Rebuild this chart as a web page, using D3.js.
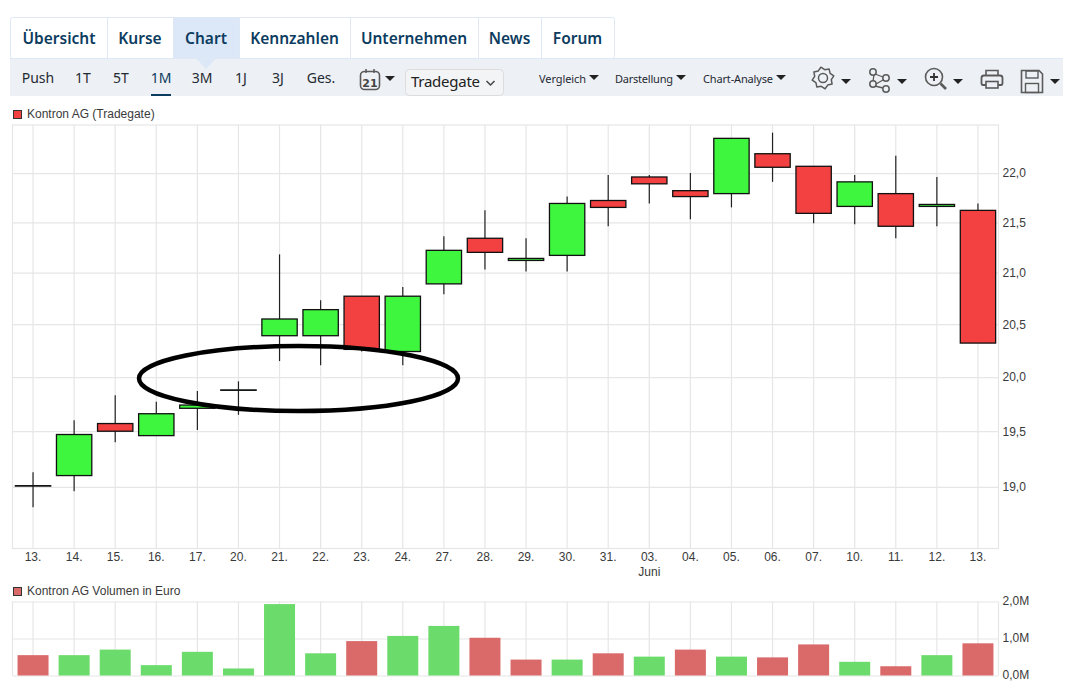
<!DOCTYPE html>
<html>
<head>
<meta charset="utf-8">
<title>Kontron AG Chart</title>
<script src="https://cdn.jsdelivr.net/npm/d3@7"></script>
<style>
html, body { margin: 0; padding: 0; background: #fff; }
svg { display: block; }
</style>
</head>
<body>
<div id="chart"></div>
<script>
// werte
var days = ["13.","14.","15.","16.","17.","20.","21.","22.","23.","24.","27.","28.","29.","30.","31.","03.","04.","05.","06.","07.","10.","11.","12.","13."];
var open  = [19.01,19.10,19.57,19.46,19.71,19.88,20.39,20.39,20.77,20.24,20.89,21.34,21.12,21.17,21.72,21.96,21.82,21.79,22.20,22.07,21.66,21.79,21.66,21.62];
var close = [19.01,19.47,19.50,19.66,19.74,19.88,20.55,20.64,20.26,20.77,21.22,21.20,21.14,21.69,21.65,21.89,21.76,22.36,22.06,21.59,21.91,21.46,21.68,20.32];
var high  = [19.13,19.60,19.83,19.77,19.87,19.96,21.18,20.73,20.77,20.86,21.36,21.62,21.34,21.76,21.98,21.98,22.00,22.36,22.42,22.07,21.98,22.18,21.96,21.69];
var low   = [18.82,18.96,19.40,19.46,19.51,19.65,20.15,20.11,20.24,20.11,20.79,21.03,21.01,21.01,21.46,21.69,21.53,21.65,21.91,21.49,21.48,21.34,21.46,20.32];
var volume = [0.55,0.55,0.70,0.28,0.64,0.19,1.93,0.60,0.93,1.07,1.34,1.02,0.43,0.43,0.60,0.51,0.70,0.51,0.49,0.84,0.37,0.25,0.55,0.87];
var volumeUp = [0,1,1,1,1,1,1,1,0,1,1,0,0,1,0,1,0,1,0,0,1,0,1,0];
var priceTicks = [19,19.5,20,20.5,21,21.5,22];
var volumeTicks = [0,1,2];

var tabs = [
  {name:"Übersicht",x0:11,x1:107},{name:"Kurse",x0:107,x1:173},{name:"Chart",x0:173,x1:239},
  {name:"Kennzahlen",x0:239,x1:350},{name:"Unternehmen",x0:350,x1:478},{name:"News",x0:478,x1:541},{name:"Forum",x0:541,x1:614}
];
var ranges = [["Push",38],["1T",83],["5T",121],["1M",161],["3M",202],["1J",241],["3J",278],["Ges.",321]];
var menus = [["Vergleich",539,47],["Darstellung",615,58],["Chart-Analyse",703,70]];

var W = 1078, H = 697;
var left = 12.5, right = 998.5;
var blue = "#0c3c60", grid = "#e6e6e6", iconCol = "#5a5a5a";
var red = "#f34141", green = "#3ef63e", volRed = "#da6a6a", volGreen = "#6bdb6b";

var svg = d3.select("#chart").append("svg").attr("width", W).attr("height", H);
var idx = d3.range(days.length);

var x = d3.scaleBand().domain(idx).range([left, right]).paddingInner(0.14).paddingOuter(0.07);
var xc = function(i) { return x(i) + x.bandwidth() / 2; };
var y = d3.scaleLog().domain([18.46, 22.5]).range([548.5, 125]);
var yVol = d3.scaleLinear().domain([0, 2]).range([675.5, 601.5]);
var comma = function(d) { return d.toFixed(1).replace(".", ","); };

// ---- tabs + toolbar
var sans = "'Noto Sans', sans-serif";
svg.append("rect").attr("x", 10.5).attr("y", 17.5).attr("width", 604).attr("height", 41).attr("rx", 2).attr("fill", "#fff").attr("stroke", "#dfe8f5");
svg.append("rect").attr("x", 173).attr("y", 18).attr("width", 66).attr("height", 40).attr("fill", "#dce8f8");
svg.selectAll(".tabsep").data(tabs.slice(1)).enter().append("line")
  .attr("x1", function(d) { return d.x0 + 0.5; }).attr("x2", function(d) { return d.x0 + 0.5; })
  .attr("y1", 18).attr("y2", 58).attr("stroke", "#dfe8f5");
svg.selectAll(".tab").data(tabs).enter().append("text")
  .attr("x", function(d) { return (d.x0 + d.x1) / 2; }).attr("y", 44)
  .attr("text-anchor", "middle").attr("fill", blue)
  .style("font", "600 15.5px " + sans).text(function(d) { return d.name; });

svg.append("rect").attr("x", 10).attr("y", 58).attr("width", 1053).attr("height", 38).attr("fill", "#edf0f4");
svg.append("line").attr("x1", 10).attr("x2", 1063).attr("y1", 58.5).attr("y2", 58.5).attr("stroke", "#dfe8f5");
svg.append("path").attr("d", "M196.5,59L215.5,59L206,69Z").attr("fill", "#dce8f8");

svg.selectAll(".range").data(ranges).enter().append("text")
  .attr("x", function(d) { return d[1]; }).attr("y", 83).attr("text-anchor", "middle")
  .attr("fill", function(d) { return d[0] == "1M" ? blue : "#1f2a33"; })
  .style("font", "400 14px " + sans).text(function(d) { return d[0]; });
svg.append("rect").attr("x", 151).attr("y", 94).attr("width", 20).attr("height", 2).attr("fill", blue);

function tri(x0, yt, w, h) {
  svg.append("path").attr("d", "M" + x0 + "," + yt + "L" + (x0 + w) + "," + yt + "L" + (x0 + w / 2) + "," + (yt + h) + "Z").attr("fill", "#222");
}

// calendar
svg.append("rect").attr("x", 360.5).attr("y", 71.5).attr("width", 19).attr("height", 18).attr("rx", 4).attr("fill", "none").attr("stroke", iconCol).attr("stroke-width", 1.6);
svg.append("path").attr("d", "M366,69V73M374,69V73").attr("stroke", iconCol).attr("stroke-width", 1.5);
svg.append("text").attr("x", 370).attr("y", 87).attr("text-anchor", "middle").attr("fill", "#444").style("font", "700 11px 'DejaVu Sans', sans-serif").text("21");
tri(385, 76, 10, 5);

// select
svg.append("rect").attr("x", 405.5).attr("y", 69.5).attr("width", 98).attr("height", 26).attr("rx", 4).attr("fill", "#f3f4f6").attr("stroke", "#dcdcdc");
svg.append("text").attr("x", 411).attr("y", 87).attr("fill", "#222").attr("textLength", 69).style("font", "400 15px " + sans).text("Tradegate");
svg.append("path").attr("d", "M486.5,81L490.5,85L494.5,81").attr("fill", "none").attr("stroke", "#444").attr("stroke-width", 1.5);

svg.selectAll(".menu").data(menus).enter().append("text")
  .attr("x", function(d) { return d[1]; }).attr("y", 83).attr("textLength", function(d) { return d[2]; })
  .attr("fill", "#1f2a33").style("font", "400 11px " + sans).text(function(d) { return d[0]; });
menus.forEach(function(m) { tri(m[1] + m[2] + 3, 75, 10, 5); });

// gear
var gear = "";
for (var a = 0; a < 16; a++) {
  var ang = (a - 0.5) * Math.PI / 8, r = a % 2 == 0 ? 11 : 8.5;
  gear += (a ? "L" : "M") + (823 + r * Math.cos(ang)).toFixed(1) + "," + (78 + r * Math.sin(ang)).toFixed(1);
}
svg.append("path").attr("d", gear + "Z").attr("fill", "none").attr("stroke", iconCol).attr("stroke-width", 1.5).attr("stroke-linejoin", "round");
svg.append("circle").attr("cx", 823).attr("cy", 78).attr("r", 4.5).attr("fill", "none").attr("stroke", iconCol).attr("stroke-width", 1.5);
tri(841, 79, 10, 5);

// network
[[873, 72], [886, 78], [873, 84], [886, 89]].forEach(function(p) {
  svg.append("circle").attr("cx", p[0]).attr("cy", p[1]).attr("r", 3.2).attr("fill", "none").attr("stroke", iconCol).attr("stroke-width", 1.5);
});
svg.append("path").attr("d", "M874,75L873,81M876,84L883,80M875,86L883,88M875,74L883,77").attr("fill", "none").attr("stroke", iconCol).attr("stroke-width", 1.3);
tri(897, 79, 10, 5);

// zoom
svg.append("circle").attr("cx", 934).attr("cy", 77).attr("r", 8.5).attr("fill", "none").attr("stroke", iconCol).attr("stroke-width", 1.6);
svg.append("path").attr("d", "M930,77H938M934,73V81").attr("stroke", "#333").attr("stroke-width", 1.8);
svg.append("path").attr("d", "M940.5,83.5L946,89").attr("stroke", iconCol).attr("stroke-width", 2.6);
tri(953, 79, 10, 5);

// printer
svg.append("path").attr("d", "M986,76V70.5H998V76").attr("fill", "none").attr("stroke", iconCol).attr("stroke-width", 1.6);
svg.append("path").attr("d", "M986,85H983Q981.5,85 981.5,83V78Q981.5,75.5 984,75.5H1000Q1002.5,75.5 1002.5,78V83Q1002.5,85 1001,85H998").attr("fill", "none").attr("stroke", iconCol).attr("stroke-width", 1.8);
svg.append("rect").attr("x", 986).attr("y", 81.5).attr("width", 12).attr("height", 6.5).attr("fill", "none").attr("stroke", iconCol).attr("stroke-width", 1.6);

// save
svg.append("path").attr("d", "M1021.5,70.5H1039L1042.5,74V92.5H1021.5Z").attr("fill", "none").attr("stroke", iconCol).attr("stroke-width", 1.6);
svg.append("rect").attr("x", 1026).attr("y", 71).attr("width", 12).attr("height", 7).attr("fill", "none").attr("stroke", iconCol).attr("stroke-width", 1.4);
svg.append("rect").attr("x", 1025.5).attr("y", 83.5).attr("width", 13).attr("height", 9).attr("fill", "none").attr("stroke", iconCol).attr("stroke-width", 1.4);
tri(1050, 79, 10, 5);

// ---- kursbereich
var chartFont = "400 12px 'Liberation Sans', Arial, sans-serif", txt = "#3a3a3a";

svg.append("rect").attr("x", 13.5).attr("y", 110.5).attr("width", 8).attr("height", 8).attr("fill", red).attr("stroke", "#333");
svg.append("text").attr("x", 27).attr("y", 118).attr("fill", txt).style("font", chartFont).text("Kontron AG (Tradegate)");

function styleAxis(g) {
  g.select(".domain").remove();
  g.selectAll("line").attr("stroke", grid).attr("stroke-width", 1.2);
  g.selectAll("text").attr("fill", txt).style("font", chartFont);
}

svg.append("g").attr("transform", "translate(0,548.5)")
  .call(d3.axisBottom(x).tickFormat(function(i) { return days[i]; }).tickSize(-423.5).tickPadding(4))
  .call(styleAxis);

svg.append("g").attr("transform", "translate(" + right + ",0)")
  .call(d3.axisRight(y).tickValues(priceTicks).tickFormat(comma).tickSize(-(right - left)).tickPadding(4))
  .call(styleAxis);

svg.append("rect").attr("x", left).attr("y", 125).attr("width", right - left).attr("height", 423.5)
  .attr("fill", "none").attr("stroke", grid).attr("stroke-width", 1.2);

svg.append("text").attr("x", xc(15)).attr("y", 576).attr("text-anchor", "middle").attr("fill", txt).style("font", chartFont).text("Juni");

svg.selectAll(".wick").data(idx).enter().append("line")
  .attr("x1", xc).attr("x2", xc)
  .attr("y1", function(i) { return y(high[i]); }).attr("y2", function(i) { return y(low[i]); })
  .attr("stroke", "#222").attr("stroke-width", 1.2);

svg.selectAll(".body").data(idx).enter().append("rect")
  .attr("x", x)
  .attr("width", x.bandwidth())
  .attr("y", function(i) { return y(Math.max(open[i], close[i])); })
  .attr("height", function(i) { return Math.max(0.4, y(Math.min(open[i], close[i])) - y(Math.max(open[i], close[i]))); })
  .attr("fill", function(i) { return close[i] >= open[i] ? green : red; })
  .attr("stroke", "#111").attr("stroke-width", 1.3);

// markierung von hand im original
svg.append("ellipse").attr("cx", 298.5).attr("cy", 378.5).attr("rx", 159.5).attr("ry", 32.5)
  .attr("fill", "none").attr("stroke", "#000").attr("stroke-width", 4.5);

// ---- volumen
svg.append("rect").attr("x", 13.5).attr("y", 587.5).attr("width", 8).attr("height", 8).attr("fill", volRed).attr("stroke", "#333");
svg.append("text").attr("x", 27).attr("y", 595).attr("fill", txt).style("font", chartFont).text("Kontron AG Volumen in Euro");

svg.append("g").attr("transform", "translate(0,675.5)")
  .call(d3.axisBottom(x).tickFormat("").tickSize(-74))
  .call(styleAxis);

svg.append("g").attr("transform", "translate(" + right + ",0)")
  .call(d3.axisRight(yVol).tickValues(volumeTicks).tickFormat(function(d) { return comma(d) + "M"; }).tickSize(-(right - left)).tickPadding(4))
  .call(styleAxis)
  .call(function(g) { g.selectAll("text").attr("dy", "0.22em"); });

svg.append("line").attr("x1", left).attr("x2", left).attr("y1", 601.5).attr("y2", 675.5).attr("stroke", grid).attr("stroke-width", 1.2);
svg.append("line").attr("x1", right).attr("x2", right).attr("y1", 601.5).attr("y2", 675.5).attr("stroke", grid).attr("stroke-width", 1.2);

svg.selectAll(".vol").data(idx).enter().append("rect")
  .attr("x", function(i) { return xc(i) - 15.5; })
  .attr("width", 31)
  .attr("y", function(i) { return yVol(volume[i]); })
  .attr("height", function(i) { return yVol(0) - yVol(volume[i]); })
  .attr("fill", function(i) { return volumeUp[i] ? volGreen : volRed; });
</script>
</body>
</html>
